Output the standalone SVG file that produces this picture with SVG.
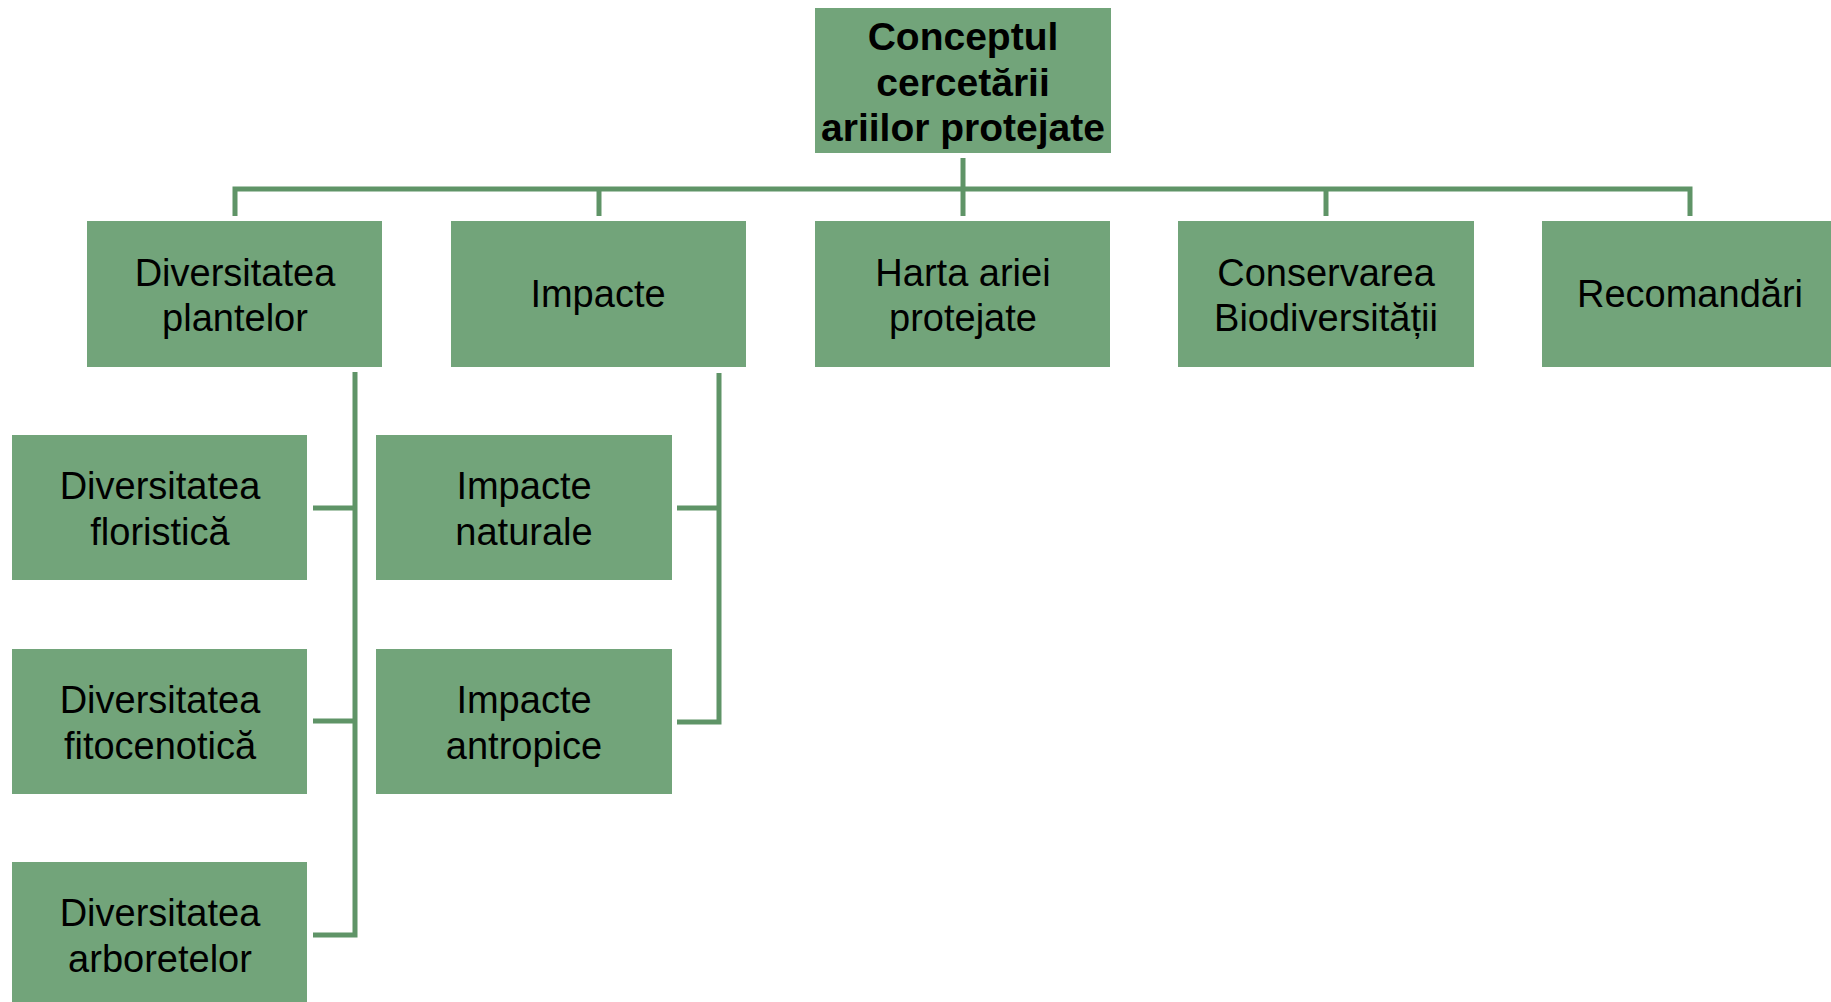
<svg xmlns="http://www.w3.org/2000/svg" width="1831" height="1002" viewBox="0 0 1831 1002">
<style>
.box{fill:#72A47A;}
.t{font-family:"Liberation Sans",Arial,sans-serif;font-size:38px;fill:#000;text-anchor:middle;}
.b{font-family:"Liberation Sans",Arial,sans-serif;font-size:39px;font-weight:bold;fill:#000;text-anchor:middle;}
.c{fill:none;stroke:#5F9467;stroke-width:5;stroke-linecap:butt;stroke-linejoin:miter;}
</style>
<rect width="1831" height="1002" fill="#fff"/>
<g id="connectors">
<path class="c" d="M963 158 V216"/>
<path class="c" d="M235 216 V189 H1690 V216"/>
<path class="c" d="M599 189 V216"/>
<path class="c" d="M1326 189 V216"/>
<path class="c" d="M355 372 V935 H313"/>
<path class="c" d="M313 508 H355"/>
<path class="c" d="M313 721 H355"/>
<path class="c" d="M719 373 V722 H677"/>
<path class="c" d="M677 508 H719"/>
</g>
<g id="n0"><rect class="box" x="815" y="8" width="296" height="145"/>
<text class="b" x="963" y="50">Conceptul</text><text class="b" x="963" y="96">cercetării</text><text class="b" x="963" y="141">ariilor protejate</text></g>
<g id="n1"><rect class="box" x="87" y="221" width="295" height="146"/>
<text class="t" x="235" y="286">Diversitatea</text><text class="t" x="235" y="331">plantelor</text></g>
<g id="n2"><rect class="box" x="451" y="221" width="295" height="146"/>
<text class="t" x="598" y="307">Impacte</text></g>
<g id="n3"><rect class="box" x="815" y="221" width="295" height="146"/>
<text class="t" x="963" y="286">Harta ariei</text><text class="t" x="963" y="331">protejate</text></g>
<g id="n4"><rect class="box" x="1178" y="221" width="296" height="146"/>
<text class="t" x="1326" y="286">Conservarea</text><text class="t" x="1326" y="331">Biodiversității</text></g>
<g id="n5"><rect class="box" x="1542" y="221" width="296" height="146"/>
<text class="t" x="1690" y="307">Recomandări</text></g>
<g id="n6"><rect class="box" x="12" y="435" width="295" height="145"/>
<text class="t" x="160" y="499">Diversitatea</text><text class="t" x="160" y="545">floristică</text></g>
<g id="n7"><rect class="box" x="12" y="649" width="295" height="145"/>
<text class="t" x="160" y="713">Diversitatea</text><text class="t" x="160" y="759">fitocenotică</text></g>
<g id="n8"><rect class="box" x="12" y="862" width="295" height="145"/>
<text class="t" x="160" y="926">Diversitatea</text><text class="t" x="160" y="972">arboretelor</text></g>
<g id="n9"><rect class="box" x="376" y="435" width="296" height="145"/>
<text class="t" x="524" y="499">Impacte</text><text class="t" x="524" y="545">naturale</text></g>
<g id="n10"><rect class="box" x="376" y="649" width="296" height="145"/>
<text class="t" x="524" y="713">Impacte</text><text class="t" x="524" y="759">antropice</text></g>
</svg>
